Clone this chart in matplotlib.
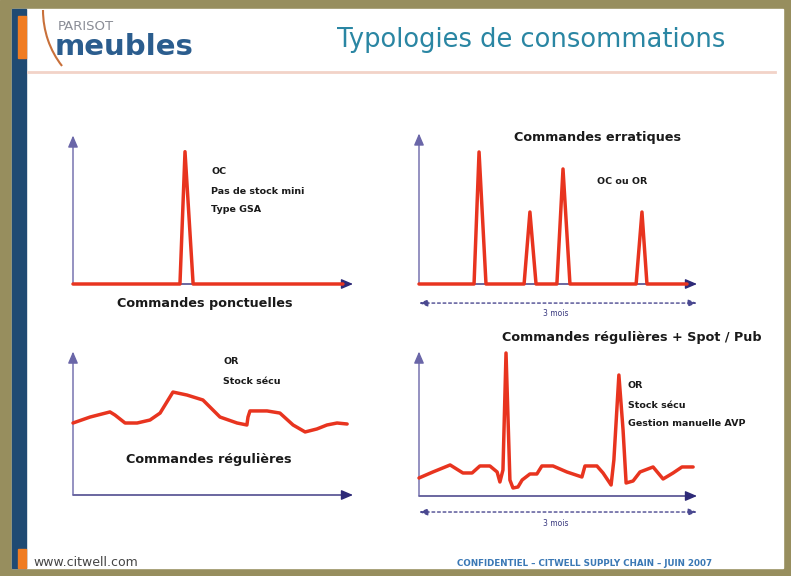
"""Slide: typologies de consommations (4 small sketch charts)."""
import matplotlib
matplotlib.use("Agg")
import matplotlib.pyplot as plt
from matplotlib.patches import Rectangle, Arc

W, H = 791, 576

# ---- data (x: position along the time axis 0-100, y: quantity 0-100)
ponct_x = [0, 38.2, 40.0, 42.9, 96.4]
ponct_y = [0, 0, 90, 0, 0]

errat_x = [0, 19.8, 21.6, 24.1, 37.8, 39.9, 42.1, 49.6, 51.8, 54.3,
           78.1, 80.2, 82.0, 96.4]
errat_y = [0, 0, 88.6, 0, 0, 48.3, 0, 0, 77.2, 0, 0, 48.3, 0, 0]

regul_x = [0, 6.1, 13.2, 15.0, 18.6, 22.9, 27.5, 31.1, 35.7, 40.7, 46.4,
           52.5, 58.6, 62.1, 62.5, 63.2, 69.3, 73.9, 78.6, 82.9, 87.1,
           90.7, 94.3, 97.9]
regul_y = [50.7, 54.9, 58.5, 56.3, 50.7, 50.7, 52.8, 57.7, 72.5, 70.4, 66.9,
           54.9, 50.7, 49.3, 54.9, 59.2, 59.2, 57.7, 49.3, 44.4, 46.5,
           49.3, 50.7, 50.0]

spot_x = [0, 5.0, 11.2, 15.8, 19.1, 21.9, 25.5, 28.1, 29.1, 30.2, 31.3,
          32.7, 33.8, 35.6, 37.1, 39.9, 42.4, 44.2, 48.2, 53.2, 58.6, 59.7,
          64.0, 66.2, 69.1, 70.1, 71.9, 73.4, 74.5, 77.0, 79.5, 84.2, 87.8,
          91.4, 94.6, 98.6]
spot_y = [12.6, 16.8, 21.7, 16.1, 16.1, 21.0, 21.0, 16.8, 9.8, 18.2, 100,
          11.2, 5.6, 6.3, 11.2, 15.4, 15.4, 21.0, 21.0, 16.8, 13.3, 21.0,
          21.0, 16.1, 7.7, 25.2, 84.6, 46.2, 9.1, 10.5, 16.8, 20.3, 11.9,
          16.1, 20.3, 20.3]

RED = "#e8341f"
NAVY = "#2e2a78"
OLIVE = "#978e5e"

fig = plt.figure(figsize=(W / 100, H / 100), dpi=100)

# background / slide frame in pixel coordinates
bg = fig.add_axes([0, 0, 1, 1])
bg.set_xlim(0, W)
bg.set_ylim(H, 0)
bg.axis("off")
bg.add_patch(Rectangle((0, 0), W, H, color=OLIVE, zorder=0))
bg.add_patch(Rectangle((12, 9), 771, 559, color="white", zorder=1))
bg.add_patch(Rectangle((12, 9), 14, 559, color="#1f4a73", zorder=2))
bg.add_patch(Rectangle((18, 16), 8, 42, color="#f07c22", zorder=3))
bg.add_patch(Rectangle((18, 549), 8, 19, color="#f07c22", zorder=3))

# header
bg.add_patch(Arc((120, 10), 154, 170, theta1=136, theta2=180,
                 color="#c8703a", lw=1.5, zorder=3))
bg.text(58, 27, "PARISOT", fontsize=9.5, color="#8a8d96", va="center", zorder=4)
bg.text(55, 47, "meubles", fontsize=21, fontweight="bold", color="#2b5d8e",
        va="center", zorder=4)
bg.text(531, 40, "Typologies de consommations", fontsize=18.5, color="#2a86a3",
        ha="center", va="center", zorder=4)
bg.plot([28, 775], [72, 72], color="#f2d3c8", lw=2, zorder=3)

# footer
bg.text(33, 562, "www.citwell.com", fontsize=9, color="#444444",
        va="center", zorder=4)
bg.text(585, 563, "CONFIDENTIEL \u2013 CITWELL SUPPLY CHAIN \u2013 JUIN 2007",
        fontsize=6.3, fontweight="bold", color="#3a78b5", ha="center",
        va="center", zorder=4)


def chart(x0, x1, ybase, ytop, xs, ys, span=None):
    ax = fig.add_axes([x0 / W, 1 - ybase / H, (x1 - x0) / W, (ybase - ytop) / H])
    ax.set_xlim(0, 100)
    ax.set_ylim(0, 100)
    ax.axis("off")
    arrow = dict(arrowstyle="-|>,head_length=0.7,head_width=0.3",
                 color=NAVY, lw=1, shrinkA=0, shrinkB=0)
    ax.annotate("", xy=(1, 0), xytext=(0, 0), xycoords="axes fraction",
                arrowprops=arrow, annotation_clip=False)
    yarrow = dict(arrow, color="#6a66a8")
    ax.annotate("", xy=(0, 1.01), xytext=(0, 0), xycoords="axes fraction",
                arrowprops=yarrow, annotation_clip=False)
    ax.plot(xs, ys, color=RED, lw=2.5, solid_joinstyle="round",
            solid_capstyle="round", clip_on=False, zorder=5)
    if span is not None:
        ax.annotate("", xy=(1, span), xytext=(0, span), xycoords="axes fraction",
                    arrowprops=dict(arrowstyle="<|-|>,head_length=0.5,head_width=0.2",
                                    color="#4a4890", lw=1, ls=(0, (2, 2)),
                                    shrinkA=0, shrinkB=0),
                    annotation_clip=False)
    return ax


chart(73, 353, 284, 137, ponct_x, ponct_y)
chart(419, 697, 284, 135, errat_x, errat_y, span=-0.128)
chart(73, 353, 495, 353, regul_x, regul_y)
chart(419, 697, 496, 353, spot_x, spot_y, span=-0.112)

bold = dict(fontweight="bold", color="#1a1a1a", zorder=4)
small = dict(fontsize=6.8, va="center", **bold)
big = dict(fontsize=9.2, ha="center", va="center", **bold)

bg.text(211, 172, "OC", **small)
bg.text(211, 191, "Pas de stock mini", **small)
bg.text(211, 210, "Type GSA", **small)
bg.text(205, 304, "Commandes ponctuelles", **big)

bg.text(598, 138, "Commandes erratiques", **big)
bg.text(597, 182, "OC ou OR", **small)
bg.text(556, 313, "3 mois", fontsize=5.5, color="#3a3a80", ha="center",
        va="center", zorder=4)

bg.text(223, 362, "OR", **small)
bg.text(223, 382, "Stock s\u00e9cu", **small)
bg.text(209, 460, "Commandes r\u00e9guli\u00e8res", **big)

bg.text(632, 338, "Commandes r\u00e9guli\u00e8res + Spot / Pub", **big)
bg.text(628, 386, "OR", **small)
bg.text(628, 405, "Stock s\u00e9cu", **small)
bg.text(628, 424, "Gestion manuelle AVP", **small)
bg.text(556, 523, "3 mois", fontsize=5.5, color="#3a3a80", ha="center",
        va="center", zorder=4)

fig.savefig("out.png", dpi=100)
